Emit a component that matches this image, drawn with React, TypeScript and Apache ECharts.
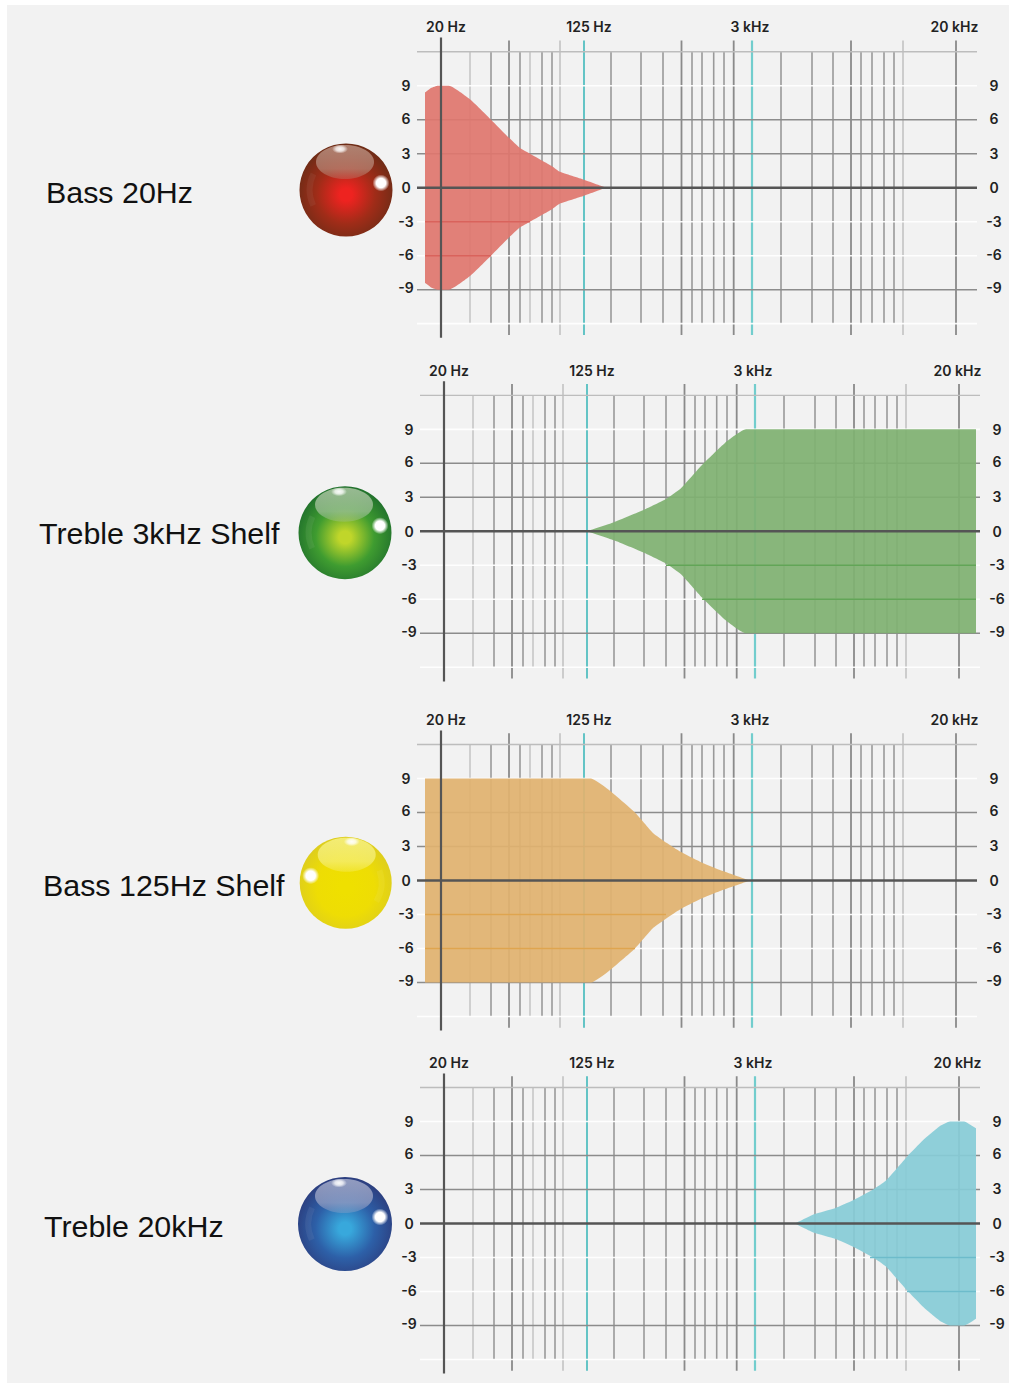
import React, { useEffect, useRef } from "react";
import * as echarts from "echarts";

// Printed scale: horizontal positions are measured along the scale, 20 Hz = 0.
const freqLabels = ["20 Hz", "125 Hz", "3 kHz", "20 kHz"];
const freqLabelAt = [5, 148, 309, 513.5];
const yLabels = ["-9", "-6", "-3", "0", "3", "6", "9"];
const yLabelAt = [-8.85, -5.92, -2.95, 0, 3.05, 6.15, 9];
const axisLineAt = [0];
const tallStrong = [68, 240.5, 292.7, 410, 515];
const tallLight = [119, 462];
const markerNarrow = [143];
const markerWide = [311];
const shortLight = [29, 89];
const shortGrid = [50, 79, 101, 111, 170, 200, 222, 251, 261, 272.7, 283, 340, 371, 392, 420, 431, 443, 453];
const whiteLevels = [9, -3, -6, -12];
const greyLevels = [6, 3, -9];
const topLevel = [12];
const zeroLevel = [0];

const bassX = [-16, -10, -3, 8, 29, 50, 68, 79, 89, 111, 119, 143, 165];
const bassY = [8.4, 8.8, 9, 9, 7.8, 6, 4.4, 3.5, 3, 1.9, 1.4, 0.7, 0];
const trebleShelfX = [143, 170, 200, 222, 237, 258, 281, 302, 532];
const trebleShelfY = [0, 0.8, 1.9, 2.85, 3.8, 5.85, 7.8, 9, 9];
const bassShelfX = [-16, 150, 167, 194, 212, 226, 239, 259, 279, 309];
const bassShelfY = [9, 9, 8.05, 6, 4.2, 3.3, 2.55, 1.66, 0.93, 0];
const trebleX = [351, 370, 391, 409, 429, 442, 463, 479, 496, 506, 520, 532];
const trebleY = [0, 0.82, 1.35, 2.05, 3, 3.8, 5.9, 7.35, 8.6, 9, 9, 8.4];

// [level, from, to] of the darker strokes visible inside each filled shape
const bassInner = [[-3, -16, 89], [-6, -16, 50]];
const trebleShelfInner = [[-3, 222, 532], [-6, 258, 532]];
const bassShelfInner = [[-3, -16, 225], [-6, -16, 194]];
const trebleInner = [[-3, 426, 532], [-6, 463, 532]];

const panels = [
  { name: "Bass 20Hz", nameX: 46, nameY: 191.5, dx: 0, zero: 187.7, xs: bassX, ys: bassY, inner: bassInner, fill: "#df766e", innerColor: "#d9635c", sx: 346, sy: 190, r: 46.5, ball: ["#ee2320", "#a02c18", "#6a2c16", "#b88c7c"], flip: false },
  { name: "Treble 3kHz Shelf", nameX: 39, nameY: 532.5, dx: 3, zero: 531.3, xs: trebleShelfX, ys: trebleShelfY, inner: trebleShelfInner, fill: "#7fb171", innerColor: "#62a557", sx: 345, sy: 532.7, r: 46.5, ball: ["#c0d62a", "#3f9c30", "#1f6e2c", "#a8c4a0"], flip: false },
  { name: "Bass 125Hz Shelf", nameX: 43, nameY: 884.5, dx: 0, zero: 880.5, xs: bassShelfX, ys: bassShelfY, inner: bassShelfInner, fill: "#e1b26f", innerColor: "#dfa54f", sx: 345.7, sy: 882.7, r: 46, ball: ["#efe000", "#eedd04", "#dccc20", "#f6f080"], flip: true },
  { name: "Treble 20kHz", nameX: 44, nameY: 1225.5, dx: 3, zero: 1223.5, xs: trebleX, ys: trebleY, inner: trebleInner, fill: "#87ccd7", innerColor: "#6dbccb", sx: 345, sy: 1224, r: 47, ball: ["#38a8dc", "#2d60a8", "#2c3c7c", "#a0a8c8"], flip: false },
];

const UNIT = 11.33;
const HALF = 13.5;
const xMin = -24;
const xMax = 536;

function vLines(list: number[], lo: number, hi: number, color: string, width: number, z: number, i: number) {
  return list.map((p) => ({
    type: "line", xAxisIndex: i, yAxisIndex: i * 2, symbol: "none", silent: true, z,
    data: [[p, lo], [p, hi]], lineStyle: { color, width, cap: "butt" },
  }));
}
function hLines(list: number[], color: string, width: number, z: number, i: number) {
  return list.map((v) => ({
    type: "line", xAxisIndex: i, yAxisIndex: i * 2, symbol: "none", silent: true, z,
    data: [[xMin, v], [xMax, v]], lineStyle: { color, width, cap: "butt" },
  }));
}

function ballGraphics(p: (typeof panels)[number]) {
  const { sx, sy, r, ball, flip } = p;
  const [core, mid, edge, cap] = ball;
  const side = flip ? -1 : 1;
  const bandStart = flip ? -0.35 : 2.7;
  return [
    {
      type: "circle", shape: { cx: sx, cy: sy, r }, silent: true,
      style: {
        fill: new echarts.graphic.RadialGradient(0.5, 0.55, 0.56, [
          { offset: 0, color: core }, { offset: 0.12, color: core },
          { offset: 0.56, color: mid }, { offset: 1, color: edge },
        ]),
      },
    },
    {
      type: "arc", shape: { cx: sx, cy: sy, r: r * 0.78, startAngle: bandStart, endAngle: bandStart + 0.9 }, silent: true,
      style: { stroke: cap, lineWidth: 6, fill: "none", opacity: 0.12 },
    },
    {
      type: "ellipse", shape: { cx: sx - 1 * side, cy: sy - 28, rx: 29, ry: 17 }, silent: true,
      style: {
        fill: new echarts.graphic.LinearGradient(0, 0, 0, 1, [
          { offset: 0, color: cap + "e0" }, { offset: 0.7, color: cap + "b0" }, { offset: 1, color: cap + "50" },
        ]),
      },
    },
    {
      type: "ellipse", shape: { cx: sx - 6 * side, cy: sy - 41, rx: 8, ry: 4.5 }, silent: true,
      style: {
        fill: new echarts.graphic.RadialGradient(0.5, 0.5, 0.5, [
          { offset: 0, color: "rgba(255,255,255,0.95)" }, { offset: 0.5, color: "rgba(255,255,255,0.75)" }, { offset: 1, color: "rgba(255,255,255,0)" },
        ]),
      },
    },
    {
      type: "circle", shape: { cx: sx + 35 * side, cy: sy - 7, r: 8.5 }, silent: true,
      style: {
        fill: new echarts.graphic.RadialGradient(0.5, 0.5, 0.5, [
          { offset: 0, color: "#ffffff" }, { offset: 0.55, color: "#ffffff" }, { offset: 1, color: "rgba(255,255,255,0)" },
        ]),
      },
    },
  ];
}

export default function App() {
  const ref = useRef<HTMLDivElement>(null);
  useEffect(() => {
    document.body.style.margin = "0";
    const chart = echarts.init(ref.current!, null, { renderer: "svg" });
    const labelFont = { fontFamily: "Inter", fontWeight: 600, color: "#222222" };
    const yFormatter = (v: number) => yLabels[yLabelAt.indexOf(v)] ?? "";
    const grid: any[] = [];
    const xAxis: any[] = [];
    const yAxis: any[] = [];
    const series: any[] = [];
    const graphic: any[] = [
      { type: "rect", z: -1, silent: true, shape: { x: 7, y: 5, width: 1002, height: 1378 }, style: { fill: "#f2f2f2" } },
    ];
    panels.forEach((p, i) => {
      grid.push({ left: 417 + p.dx, width: xMax - xMin, top: p.zero - HALF * UNIT, height: 2 * HALF * UNIT });
      xAxis.push({
        type: "value", gridIndex: i, position: "top", min: xMin, max: xMax,
        axisLine: { show: false }, axisTick: { show: false }, splitLine: { show: false },
        axisLabel: {
          show: true, customValues: freqLabelAt, margin: 1, fontSize: 14, hideOverlap: false, ...labelFont,
          formatter: (v: number) => freqLabels[freqLabelAt.indexOf(v)] ?? "",
        },
      });
      const yBase = {
        type: "value", gridIndex: i, min: -HALF, max: HALF,
        axisLine: { show: false }, axisTick: { show: false }, splitLine: { show: false },
      };
      yAxis.push({ ...yBase, position: "left", axisLabel: { customValues: yLabelAt, formatter: yFormatter, margin: 11, align: "center", fontSize: 14, ...labelFont } });
      yAxis.push({ ...yBase, position: "right", axisLabel: { customValues: yLabelAt, formatter: yFormatter, margin: 17, align: "center", fontSize: 14, ...labelFont } });

      series.push(
        ...vLines(shortLight, -12, 12, "#c6c6c6", 1.6, 1, i),
        ...vLines(shortGrid, -12, 12, "#999999", 1.6, 1, i),
        ...vLines(tallStrong, -13, 13, "#8a8a8a", 1.8, 1, i),
        ...vLines(tallLight, -13, 13, "#c2c2c2", 1.6, 1, i),
        ...vLines(markerNarrow, -13, 13, "#3fb8ba", 1.6, 1, i),
        ...vLines(markerWide, -13, 13, "#72cdcd", 2.2, 1, i),
        ...hLines(topLevel, "#bdbdbd", 1.4, 1, i),
        ...hLines(greyLevels, "#8c8c8c", 1.5, 1, i),
        ...hLines(whiteLevels, "rgba(255,255,255,0.92)", 1.6, 2, i),
      );
      const fillBase = {
        type: "line", xAxisIndex: i, yAxisIndex: i * 2, symbol: "none", silent: true, z: 3,
        smooth: 0.15, lineStyle: { width: 0 },
        areaStyle: { color: p.fill, opacity: 0.92 },
      };
      series.push({ ...fillBase, data: p.xs.map((x, k) => [x, p.ys[k]]) });
      series.push({ ...fillBase, data: p.xs.map((x, k) => [x, -p.ys[k]]) });
      p.inner.forEach(([lvl, a, b]) => {
        series.push({
          type: "line", xAxisIndex: i, yAxisIndex: i * 2, symbol: "none", silent: true, z: 4,
          data: [[a, lvl], [b, lvl]], lineStyle: { color: p.innerColor, width: 1.5, cap: "butt" },
        });
      });
      series.push(
        ...vLines(axisLineAt, -13.25, 13.25, "#555555", 2.2, 5, i),
        ...hLines(zeroLevel, "#555555", 2.6, 5, i),
      );
      graphic.push({
        type: "text", silent: true, x: p.nameX, y: p.nameY,
        style: { text: p.name, fontFamily: "Liberation Sans", fontSize: 30.4, fill: "#111111", verticalAlign: "middle", align: "left" },
      });
      graphic.push(...ballGraphics(p));
    });
    chart.setOption({ animation: false, backgroundColor: "#ffffff", grid, xAxis, yAxis, series, graphic });
    return () => chart.dispose();
  }, []);
  return <div ref={ref} style={{ position: "absolute", left: 0, top: 0, width: 1009, height: 1384 }} />;
}
